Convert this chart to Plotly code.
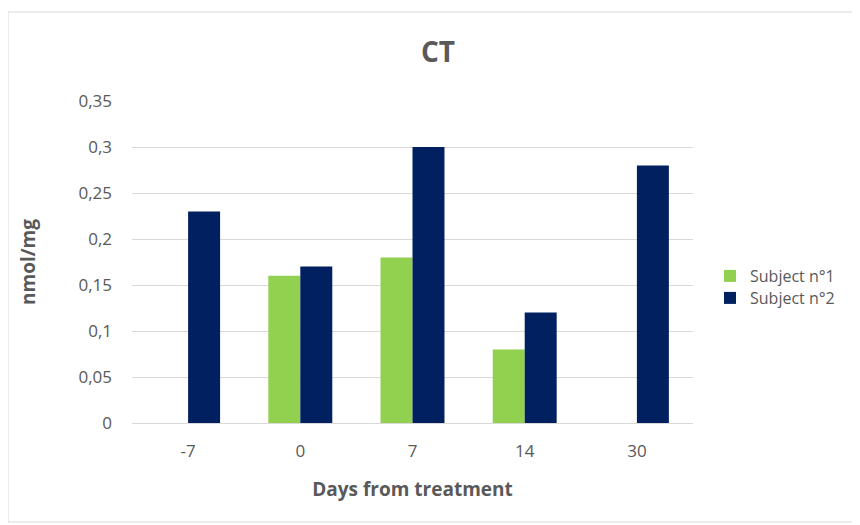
import plotly.graph_objects as go

categories = ["-7", "0", "7", "14", "30"]
subject1 = [None, 0.16, 0.18, 0.08, None]
subject2 = [0.23, 0.17, 0.30, 0.12, 0.28]
series_names = ["Subject n°1", "Subject n°2"]

# page body adds ~8px offset; figure coordinates = screen - 8
W, H = 852, 517
L, R, T, B = 124, 167, 93, 102
pw, ph = W - L - R, H - T - B

font_family = "Open Sans, DejaVu Sans, sans-serif"
txt = "#595959"

fig = go.Figure()
fig.add_trace(go.Bar(x=categories, y=subject1, name=series_names[0], legend="legend",
                     marker=dict(color="#92D050", line=dict(width=0))))
fig.add_trace(go.Bar(x=categories, y=subject2, name=series_names[1], legend="legend2",
                     marker=dict(color="#002060", line=dict(width=0))))

# outer chart border
fig.add_shape(type="rect", xref="paper", yref="paper",
              x0=(0 - L) / pw, x1=(850 - L) / pw,
              y0=(H - B - 514) / ph, y1=(H - B - 4) / ph,
              line=dict(color="#d9d9d9", width=1), fillcolor="rgba(0,0,0,0)", layer="below")

leg_common = dict(xanchor="left", yanchor="middle", font=dict(size=16, color=txt),
                  bgcolor="rgba(0,0,0,0)", itemwidth=30)

fig.update_layout(
    width=W, height=H,
    margin=dict(l=L, r=R, t=T, b=B),
    paper_bgcolor="white", plot_bgcolor="white",
    separators=",.",
    barmode="group", bargap=0.43, bargroupgap=0,
    font=dict(family=font_family, color=txt, size=17),
    title=dict(text="<b>CT</b>", x=(430 - L) / pw, xref="paper", xanchor="center",
               y=1 - 44 / H, yanchor="middle", font=dict(size=28, color=txt)),
    xaxis=dict(title=dict(text="<b>Days from treatment</b>", font=dict(size=19, color=txt), standoff=21),
               showgrid=False, showline=True, linecolor="#d9d9d9", linewidth=1,
               ticks="", ticklabelstandoff=13, tickfont=dict(size=17, color=txt), type="category"),
    yaxis=dict(title=dict(text="<b>nmol/mg</b>", font=dict(size=19, color=txt), standoff=37),
               range=[0, 0.35], dtick=0.05, showgrid=True, gridcolor="#d9d9d9", gridwidth=1,
               zeroline=False, showline=False, ticks="", ticklabelstandoff=19,
               tickfont=dict(size=17, color=txt)),
    legend=dict(x=(702 - L) / pw, y=(415 - 268) / ph, **leg_common),
    legend2=dict(x=(702 - L) / pw, y=(415 - 290) / ph, **leg_common),
    showlegend=True,
)

fig.write_html("out.html")
